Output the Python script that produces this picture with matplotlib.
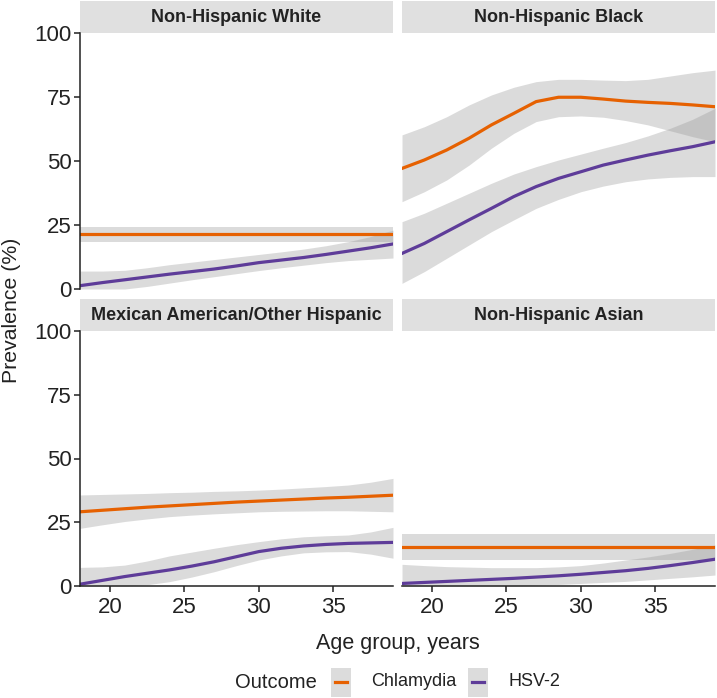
import matplotlib
matplotlib.use('Agg')
import matplotlib.pyplot as plt
from matplotlib.patches import Rectangle
from matplotlib.lines import Line2D

plt.rcParams['font.family'] = ['Liberation Sans', 'DejaVu Sans']

ages = [18, 19.5, 21, 22.5, 24, 25.5, 27, 28.5, 30, 31.5, 33, 34.5, 36, 37.5, 39]

groups = ['Non-Hispanic White', 'Non-Hispanic Black',
          'Mexican American/Other Hispanic', 'Non-Hispanic Asian']
outcomes = ['Chlamydia', 'HSV-2']

# Chlamydia smooth fit and 95% band, per group
chl_fit = [
    [21.4] * 15,
    [47.1, 50.4, 54.3, 58.9, 64.1, 68.6, 73.2, 74.9, 74.9, 74.2, 73.4, 72.9, 72.5, 71.9, 71.2],
    [29.1, 29.7, 30.3, 30.9, 31.4, 31.9, 32.4, 32.9, 33.3, 33.7, 34.1, 34.5, 34.8, 35.2, 35.6],
    [15.3] * 15,
]
chl_lo = [
    [18.2] * 15,
    [34.1, 38.0, 42.6, 48.4, 55.0, 60.8, 65.4, 67.3, 67.6, 67.1, 65.8, 64.1, 61.8, 59.5, 57.5],
    [22.6, 24.0, 25.3, 26.3, 27.2, 27.8, 28.3, 28.7, 29.1, 29.3, 29.4, 29.5, 29.5, 29.3, 29.1],
    [10.2] * 15,
]
chl_hi = [
    [24.3] * 15,
    [60.2, 63.4, 67.3, 71.9, 75.8, 78.8, 81.0, 81.9, 81.9, 81.6, 81.4, 81.9, 83.2, 84.5, 85.5],
    [35.7, 35.9, 36.1, 36.3, 36.6, 36.8, 37.1, 37.3, 37.6, 38.0, 38.5, 39.0, 39.6, 40.7, 42.2],
    [20.4] * 15,
]

# HSV-2 smooth fit and 95% band, per group
hsv_fit = [
    [1.3, 2.5, 3.6, 4.7, 5.8, 6.8, 7.8, 9.0, 10.3, 11.3, 12.3, 13.5, 14.8, 16.1, 17.6],
    [13.9, 17.8, 22.4, 27.0, 31.5, 36.1, 40.0, 43.2, 45.8, 48.4, 50.4, 52.3, 54.0, 55.6, 57.5],
    [0.7, 2.2, 3.7, 5.0, 6.3, 7.8, 9.5, 11.5, 13.5, 14.8, 15.7, 16.3, 16.7, 16.9, 17.1],
    [1.0, 1.4, 1.8, 2.2, 2.6, 3.0, 3.5, 4.0, 4.6, 5.3, 6.0, 6.9, 8.0, 9.2, 10.5],
]
hsv_lo = [
    [0.0, 0.0, 0.0, 1.0, 2.3, 3.6, 4.8, 6.0, 7.2, 8.3, 9.3, 10.3, 11.1, 11.6, 12.1],
    [2.2, 6.8, 12.0, 17.2, 22.4, 27.0, 31.5, 35.0, 38.0, 40.2, 41.9, 43.0, 43.6, 43.9, 43.9],
    [0.0, 0.0, 0.0, 0.5, 1.7, 3.5, 5.6, 8.0, 10.2, 11.8, 13.0, 13.4, 13.5, 12.5, 10.9],
    [0.0, 0.0, 0.0, 0.0, 0.0, 0.0, 0.3, 0.6, 1.0, 1.4, 1.8, 2.4, 3.0, 3.6, 4.3],
]
hsv_hi = [
    [7.0, 7.0, 7.3, 8.3, 9.5, 10.5, 11.5, 12.5, 13.5, 14.5, 15.6, 16.9, 18.5, 20.5, 23.0],
    [26.3, 29.6, 33.5, 37.4, 41.3, 44.9, 47.8, 50.4, 52.7, 55.0, 57.2, 59.8, 62.8, 66.3, 70.6],
    [7.3, 7.5, 8.2, 9.8, 11.8, 13.3, 14.8, 16.2, 17.4, 18.5, 19.3, 19.7, 20.0, 21.2, 23.0],
    [8.5, 8.0, 7.6, 7.4, 7.2, 7.2, 7.2, 7.5, 8.0, 9.0, 10.2, 11.4, 12.8, 14.4, 16.1],
]

x_ticks = [20, 25, 30, 35]
y_ticks = [0, 25, 50, 75, 100]

colors = ['#e66101', '#5e3c99']
band = '#999999'
ink = '#222222'

W, H = 717, 698
fig = plt.figure(figsize=(W / 100, H / 100), dpi=100)

lefts = [80, 402]
tops = [(33, 289), (331, 586)]

for i, name in enumerate(groups):
    r, c = divmod(i, 2)
    y0, y1 = tops[r]
    ax = fig.add_axes([lefts[c] / W, 1 - y1 / H, 313 / W, (y1 - y0) / H])

    ax.fill_between(ages, chl_lo[i], chl_hi[i], color=band, alpha=0.35, lw=0)
    ax.fill_between(ages, hsv_lo[i], hsv_hi[i], color=band, alpha=0.35, lw=0)
    ax.plot(ages, chl_fit[i], color=colors[0], lw=2.3, solid_joinstyle='round')
    ax.plot(ages, hsv_fit[i], color=colors[1], lw=2.3, solid_joinstyle='round')

    ax.set_xlim(18, 39)
    ax.set_ylim(0, 100)
    for s in ['top', 'right']:
        ax.spines[s].set_visible(False)
    ax.spines['left'].set_visible(c == 0)
    ax.spines['bottom'].set_visible(r == 1)
    for s in ['left', 'bottom']:
        ax.spines[s].set_linewidth(1.1)
        ax.spines[s].set_color(ink)

    ax.set_xticks(x_ticks)
    ax.set_yticks(y_ticks)
    ax.tick_params(axis='y', length=4, width=1.1, pad=2, labelsize=16,
                   left=(c == 0), labelleft=(c == 0), colors=ink)
    ax.tick_params(axis='x', length=4, width=1.1, pad=4, labelsize=16,
                   bottom=(r == 1), labelbottom=(r == 1), colors=ink)

    # facet strip
    sh = 32 / (y1 - y0)
    ax.add_patch(Rectangle((0, 1), 1, sh, transform=ax.transAxes,
                           facecolor='#e0e0e0', edgecolor='none', clip_on=False))
    ax.text(0.5, 1 + sh / 2, name, transform=ax.transAxes, ha='center',
            va='center', fontsize=13, fontweight='bold', color=ink)

fig.text(12 / W, 1 - 310 / H, 'Prevalence (%)', rotation=90, ha='center',
         va='center', fontsize=15.3, color=ink)
fig.text(397.5 / W, 1 - 643 / H, 'Age group, years', ha='center',
         va='center', fontsize=15.5, color=ink)

# legend drawn as key boxes like ggplot's
fig.text(276 / W, 1 - 682 / H, 'Outcome', ha='center', va='center',
         fontsize=14.5, color=ink)
for k, (lab, col, bx) in enumerate(zip(outcomes, colors, [331, 468])):
    fig.add_artist(Rectangle((bx / W, 1 - 697 / H), 20 / W, 29 / H,
                             transform=fig.transFigure, facecolor='#dcdcdc',
                             edgecolor='none'))
    fig.add_artist(Line2D([(bx + 4) / W, (bx + 16) / W], [1 - 682 / H] * 2,
                          transform=fig.transFigure, color=col, lw=2.3))
    fig.text((bx + 40) / W, 1 - 682 / H, lab, ha='left', va='center',
             fontsize=13, color=ink)

fig.savefig('out.png', dpi=100)
